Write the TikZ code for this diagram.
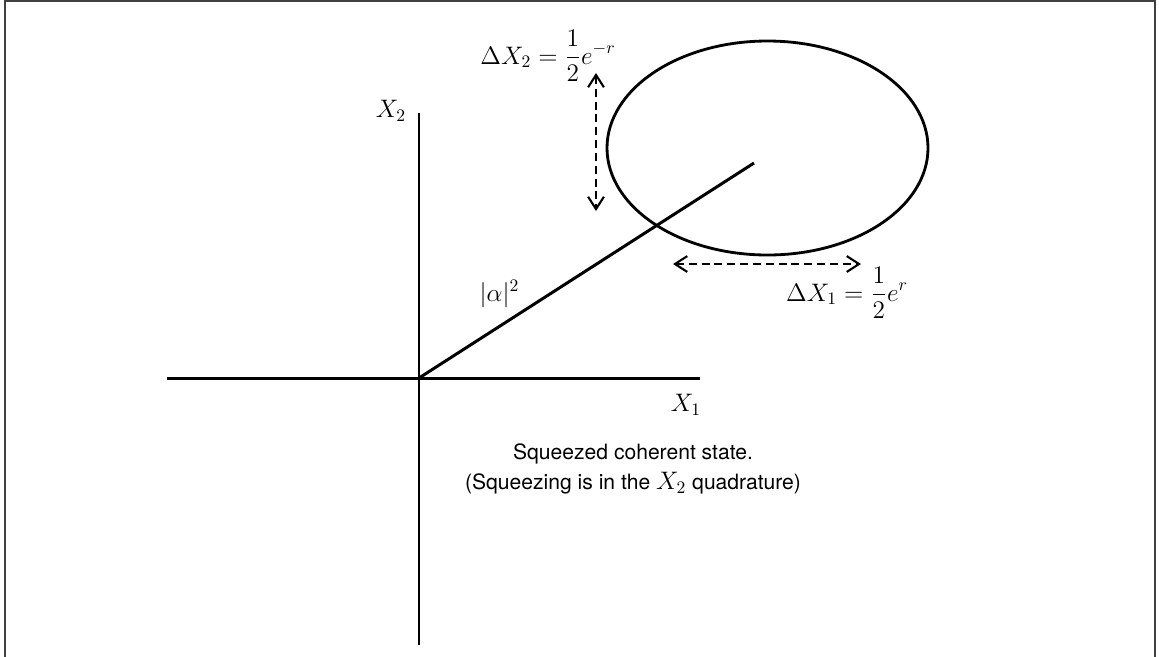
\documentclass[tikz,border=0pt]{standalone}
\usepackage{amsmath}
\usepackage{fontspec}
\newfontfamily\helvfont{TeX Gyre Heros}
\usetikzlibrary{shapes.geometric, positioning, arrows.meta}

\begin{document}
\begin{tikzpicture}[
        % Define styles for the drawing
        frame_line/.style={draw=black!75, line width=1.1pt},
        axis_line/.style={line width=1.7pt},
        state_ellipse/.style={ellipse, draw, line width=1.6pt, minimum width=6.42cm, minimum height=4.28cm, inner sep=0pt},
        spread_arrow/.style={{Straight Barb[length=7pt, width=9pt]}-{Straight Barb[length=7pt, width=9pt]}, line width=1.2pt, dash pattern=on 4.5pt off 2.8pt},
        math_label/.style={font=\Large, inner sep=1pt},
        caption/.style={font=\helvfont\fontsize{12}{17.5}\selectfont, align=center, inner sep=1pt}
    ]

    % fixed page size
    \useasboundingbox (0,0) rectangle (23.18,-13.12);

    % open frame round the picture
    \draw [frame_line] (0.1,-13.2) -- (0.1,-0.02) -- (23.1,-0.02) -- (23.1,-13.2);

    % === axes ===
    \coordinate (origin) at (8.38,-7.56);
    \coordinate (x_left) at (3.34,-7.56);
    \coordinate (x_right) at (14.0,-7.56);
    \coordinate (y_top) at (8.38,-2.26);
    \coordinate (y_bottom) at (8.38,-12.9);

    \draw [axis_line] (x_left) -- (x_right);
    \draw [axis_line] (y_top) -- (y_bottom);

    \node (X1_label) [math_label] at (13.72,-8.1) {$X_1$};
    \node (X2_label) [math_label] at (7.82,-2.22) {$X_2$};

    % === squeezed state ===
    \node (state) [state_ellipse] at (15.35,-2.96) {};
    \coordinate (state_centre) at (15.08,-3.26);
    \draw [axis_line] (origin) -- (state_centre);
    \node (alpha_label) [math_label] at (9.99,-5.88) {$|\alpha|^2$};

    % uncertainty arrows
    \coordinate (dX2_top) at (11.92,-1.46);
    \coordinate (dX2_bottom) at (11.92,-4.22);
    \draw [spread_arrow] (dX2_top) -- (dX2_bottom);
    \node (dX2_label) [math_label] at (10.96,-1.12) {$\displaystyle \Delta X_2 = \frac{1}{2} e^{-r}$};

    \coordinate (dX1_left) at (13.46,-5.28);
    \coordinate (dX1_right) at (17.22,-5.28);
    \draw [spread_arrow] (dX1_left) -- (dX1_right);
    \node (dX1_label) [math_label] at (16.94,-5.86) {$\displaystyle \Delta X_1 = \frac{1}{2} e^{r}$};

    % caption
    \node (caption) [caption] at (12.66,-9.38) {Squeezed coherent state.\\(Squeezing is in the {\Large$X_2$} quadrature)};

\end{tikzpicture}
\end{document}
